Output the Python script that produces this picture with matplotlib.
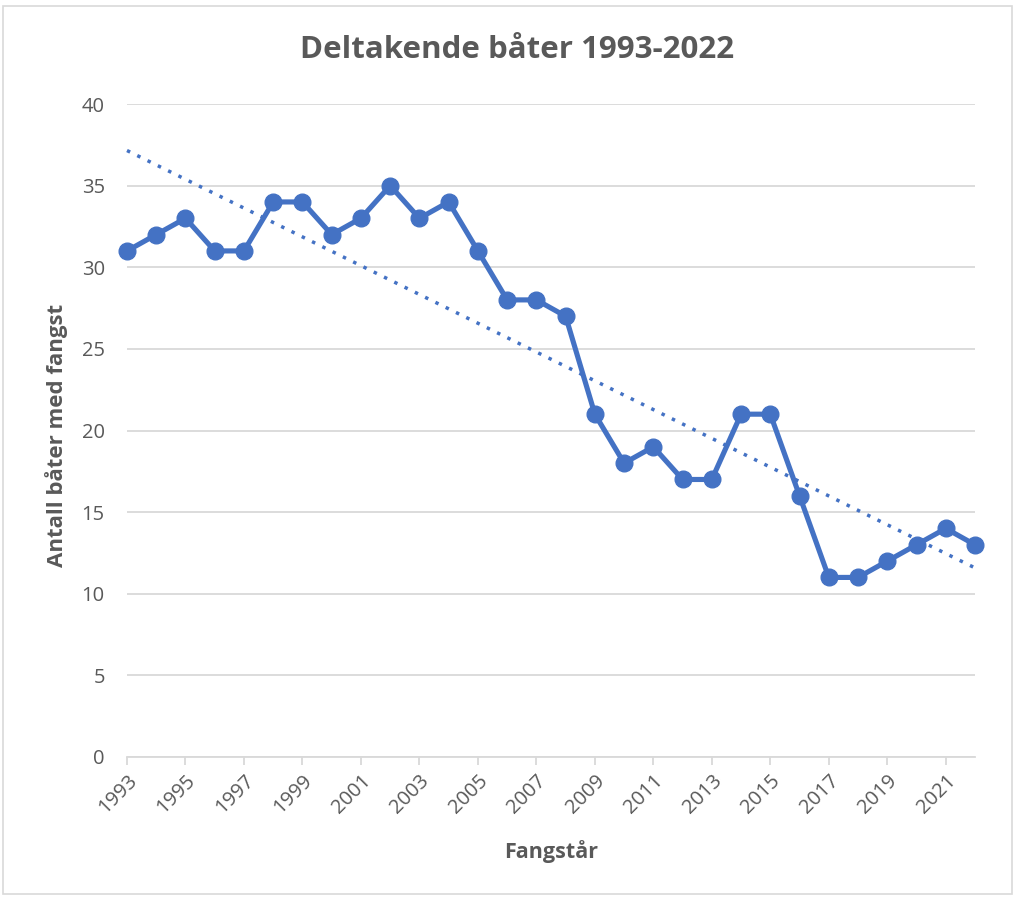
import numpy as np
import matplotlib
matplotlib.use("Agg")
import matplotlib.pyplot as plt
from matplotlib.patches import Rectangle

years = list(range(1993, 2023))
boats = [31, 32, 33, 31, 31, 34, 34, 32, 33, 35, 33, 34, 31, 28, 28, 27,
         21, 18, 19, 17, 17, 21, 21, 16, 11, 11, 12, 13, 14, 13]
title = "Deltakende båter 1993-2022"
xlabel = "Fangstår"
ylabel = "Antall båter med fangst"
yticks = [0, 5, 10, 15, 20, 25, 30, 35, 40]

blue = "#4472C4"
grey_text = "#595959"
grid_c = "#D9D9D9"

plt.rcParams['font.family'] = ['Open Sans', 'DejaVu Sans']

fig = plt.figure(figsize=(10.16, 8.97), dpi=100)
ax = fig.add_axes([127/1016, 1-757/897, (975-127)/1016, (757-104)/897])

x = np.array(years, dtype=float)
y = np.array(boats, dtype=float)
coef = np.polyfit(x, y, 1)
trend = np.polyval(coef, x)

ax.plot(x, trend, linestyle=(0, (1, 2.3)), color=blue, lw=2.5, zorder=2,
        clip_on=False)
ax.plot(x, y, color=blue, lw=3.7, marker='o', markersize=12, zorder=3,
        solid_joinstyle='round', clip_on=False)

ax.set_xlim(1993, 2022)
ax.set_ylim(0, 40)
ax.set_yticks(yticks)
ax.set_xticks(years[::2])
ax.set_xticklabels([str(v) for v in years[::2]], rotation=45, ha='right',
                   rotation_mode='anchor')

ax.grid(axis='y', color=grid_c, lw=1.3)
ax.set_axisbelow(True)
for s in ['top', 'right', 'left']:
    ax.spines[s].set_visible(False)
ax.spines['bottom'].set_color(grid_c)
ax.spines['bottom'].set_linewidth(1.3)
ax.tick_params(axis='y', length=0, pad=16, labelsize=14.5, labelcolor=grey_text)
ax.tick_params(axis='x', length=6, width=1.3, color=grid_c, pad=4,
               labelsize=14.5, labelcolor=grey_text)

ax.set_xlabel(xlabel, fontsize=15.5, fontweight='bold', color=grey_text)
ax.set_ylabel(ylabel, fontsize=16, fontweight='bold', color=grey_text)
ax.xaxis.set_label_coords(0.5, (757-840)/653)
ax.yaxis.set_label_coords((68-127)/848, 0.493)
fig.text(517/1016, 1-50/897, title, ha='center', va='center', fontsize=22.5,
         fontweight='bold', color=grey_text)

fig.patches.append(Rectangle((3/1016, 3/897), 1-7/1016, 1-9/897,
                             transform=fig.transFigure, fill=False,
                             edgecolor='#D9D9D9', lw=1.2))

fig.savefig("out.png", dpi=100)
